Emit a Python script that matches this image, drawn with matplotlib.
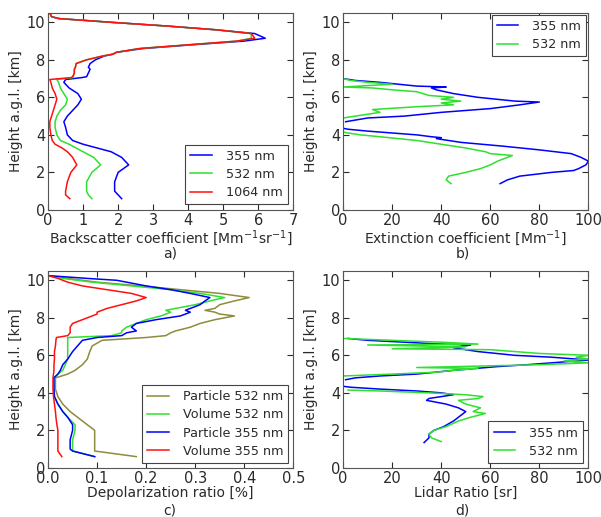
import numpy as np
import matplotlib.pyplot as plt

nan = np.nan

# a) backscatter coefficient [Mm-1 sr-1]
h_bsc = [0.6, 0.8, 1.0, 1.5, 2.0, 2.4, 2.8, 3.1, 3.3, 3.5, 3.7, 4.0, 4.4, 4.7, 5.0, 5.3, 5.6, 5.9,
         6.2, 6.5, 6.8, 6.95, 7.05, 7.1, 7.3, 7.5, 7.6, 7.8, 8.0, 8.2, 8.3, 8.4, 8.6, 8.8, 9.0,
         9.15, 9.4, 9.6, 9.8, 10.0, 10.2, 10.3, 10.5]
bsc_355 = [2.1, 2.0, 1.9, 1.9, 2.0, 2.3, 2.1, 1.8, 1.4, 1.0, 0.7, 0.55, 0.5, 0.45, 0.55, 0.7, 0.85, 0.95,
           0.85, 0.6, 0.45, 0.5, 0.95, 1.1, 1.15, 1.2, 1.15, 1.2, 1.35, 1.6, 1.85, 1.95, 2.7, 4.1, 5.6,
           6.2, 5.9, 4.8, 3.4, 1.8, 0.3, 0.1, 0.05]
bsc_532 = [1.25, 1.15, 1.1, 1.1, 1.25, 1.5, 1.3, 1.0, 0.8, 0.6, 0.35, 0.25, 0.2, 0.2, 0.25, 0.35, 0.5, 0.55,
           0.45, 0.35, 0.3, 0.25, 0.7, 0.72, 0.75, 0.75, 0.78, 0.8, 1.1, 1.55, 1.85, 1.95, 2.6, 4.0, 5.4,
           5.8, 5.8, 4.8, 3.4, 1.8, 0.3, 0.1, 0.05]
bsc_1064 = [0.62, 0.5, 0.5, 0.55, 0.65, 0.82, 0.7, 0.55, 0.4, 0.2, 0.12, 0.08, 0.05, 0.05, 0.1, 0.15, 0.2, 0.25,
            0.2, 0.12, 0.08, 0.05, 0.65, 0.7, 0.75, 0.75, 0.78, 0.8, 1.1, 1.55, 1.85, 1.95, 2.6, 4.0, 5.4,
            5.9, 5.8, 4.8, 3.4, 1.8, 0.3, 0.1, 0.05]

# b) extinction coefficient [Mm-1]
h_ext_355 = [1.4, 1.6, 1.8, 2.0, 2.1, 2.2, 2.4, 2.6, 2.8, 3.0, 3.2, 3.4, 3.6, 3.8, 3.85, 3.9, 4.0, 4.1, 4.2, 4.3, 4.35,
             4.5,
             4.7, 4.9, 5.0, 5.2, 5.4, 5.6, 5.75, 5.8, 6.0, 6.2, 6.4, 6.5, 6.55, 6.6, 6.8, 6.9, 7.0]
ext_355 = [64, 67, 72, 85, 94, 96, 99, 100, 97, 93, 80, 65, 48, 38, 40, 36, 30, 20, 10, 2, 0,
           nan,
           1, 10, 25, 40, 60, 72, 80, 70, 55, 45, 38, 36, 42, 30, 15, 5, 0]
h_ext_532 = [1.4, 1.5, 1.6, 1.8, 2.0, 2.2, 2.4, 2.6, 2.8, 2.9, 3.0, 3.1, 3.3, 3.5, 3.7, 3.9, 4.0, 4.1, 4.15,
             4.5,
             4.9, 5.0, 5.2, 5.35, 5.5, 5.6, 5.7, 5.8, 5.9, 6.0, 6.1, 6.3, 6.4, 6.5, 6.55, 6.7, 6.8, 6.9, 7.0]
ext_532 = [44, 43, 42, 43, 50, 56, 60, 63, 67, 69, 60, 58, 50, 40, 30, 15, 7, 2, 0,
           nan,
           0, 5, 15, 12, 30, 45, 40, 48, 40, 45, 35, 30, 20, 12, 0, 20, 10, 3, 0]

# c) depolarization ratio
h_dep = [0.6, 0.9, 1.0, 1.5, 2.0, 2.3, 2.7, 3.0, 3.4, 3.8, 4.2, 4.8, 5.0, 5.2, 5.5, 5.8, 6.2, 6.5,
         6.8, 6.95, 7.05, 7.2, 7.3, 7.5, 7.7, 7.9, 8.1, 8.2, 8.3, 8.4, 8.5, 8.7, 8.9, 9.08, 9.3,
         9.5, 9.7, 9.9, 10.0, 10.1, 10.25]
dep_p532 = [0.18, 0.095, 0.095, 0.095, 0.095, 0.08, 0.06, 0.045, 0.03, 0.02, 0.015, 0.015, 0.04, 0.055, 0.07, 0.08, 0.085, 0.09,
            0.11, 0.2, 0.24, 0.25, 0.26, 0.29, 0.31, 0.34, 0.38, 0.35, 0.34, 0.32, 0.34, 0.35, 0.38, 0.41, 0.35,
            0.27, 0.19, 0.1, 0.07, 0.04, 0.0]
dep_v532 = [0.095, 0.05, 0.05, 0.05, 0.055, 0.055, 0.04, 0.03, 0.02, 0.013, 0.012, 0.012, 0.02, 0.03, 0.035, 0.04, 0.04, 0.04,
            0.04, 0.04, 0.13, 0.15, 0.15, 0.16, 0.18, 0.2, 0.23, 0.24, 0.25, 0.24, 0.26, 0.3, 0.33, 0.36, 0.31,
            0.25, 0.17, 0.09, 0.06, 0.03, 0.0]
dep_p355 = [0.095, 0.05, 0.045, 0.045, 0.05, 0.05, 0.04, 0.03, 0.02, 0.013, 0.012, 0.012, 0.02, 0.025, 0.03, 0.04, 0.05, 0.06,
            0.07, 0.1, 0.15, 0.16, 0.18, 0.17, 0.18, 0.22, 0.27, 0.28, 0.29, 0.28, 0.29, 0.31, 0.32, 0.33, 0.29,
            0.25, 0.2, 0.16, 0.14, 0.08, 0.0]
dep_v355 = [0.028, 0.02, 0.02, 0.02, 0.02, 0.018, 0.016, 0.015, 0.013, 0.011, 0.01, 0.01, 0.011, 0.012, 0.012, 0.013, 0.013, 0.015,
            0.016, 0.017, 0.04, 0.045, 0.045, 0.045, 0.05, 0.07, 0.09, 0.1, 0.1, 0.11, 0.12, 0.15, 0.18, 0.2, 0.17,
            0.12, 0.07, 0.04, 0.03, 0.02, 0.0]

# d) lidar ratio [sr]
h_lr_355 = [1.35, 1.6, 1.8, 2.0, 2.2, 2.5, 2.8, 3.0, 3.2, 3.4, 3.6, 3.7, 3.9, 4.0, 4.1, 4.2, 4.3, 4.35,
            4.5,
            4.7, 4.8, 4.9, 5.0, 5.2, 5.4, 5.5, 5.7, 5.75, 5.9, 6.0, 6.2, 6.4, 6.55, 6.6, 6.7, 6.8, 6.9]
lr_355 = [33, 35, 35, 37, 41, 45, 48, 50, 47, 42, 34, 35, 45, 40, 30, 15, 3, 0,
          nan,
          1, 5, 15, 30, 45, 63, 75, 95, 100, 85, 70, 55, 45, 52, 40, 25, 10, 2]
h_lr_532 = [1.4, 1.6, 1.8, 2.0, 2.2, 2.5, 2.7, 2.9, 3.0, 3.2, 3.4, 3.6, 3.7, 3.8, 3.9, 4.0, 4.1, 4.15,
            4.5,
            4.9, 5.0, 5.1, 5.2, 5.3, 5.35, 5.5, 5.6, 5.7, 5.8, 5.9, 6.0, 6.1, 6.3, 6.35, 6.45, 6.55, 6.6, 6.7, 6.8, 6.9]
lr_532 = [40, 36, 35, 37, 42, 47, 52, 58, 53, 56, 50, 47, 55, 57, 50, 35, 15, 2,
          nan,
          0, 20, 38, 45, 55, 30, 80, 100, 90, 100, 95, 100, 80, 60, 20, 50, 10, 55, 40, 20, 0]

blue = '#0000ff'
green = '#2fe02f'
red = '#ff1010'
olive = '#8c8c3c'
txt = '#2a2a2a'

plt.rcParams['font.family'] = 'DejaVu Sans'
plt.rcParams['font.size'] = 10
plt.rcParams['text.color'] = txt
plt.rcParams['axes.labelcolor'] = txt
plt.rcParams['xtick.color'] = txt
plt.rcParams['ytick.color'] = txt
plt.rcParams['xtick.labelsize'] = 10.5
plt.rcParams['ytick.labelsize'] = 10.5
plt.rcParams['xtick.direction'] = 'in'
plt.rcParams['ytick.direction'] = 'in'
plt.rcParams['xtick.top'] = True
plt.rcParams['ytick.right'] = True
plt.rcParams['axes.edgecolor'] = '#555555'
plt.rcParams['legend.fontsize'] = 9.2
plt.rcParams['legend.handlelength'] = 1.7
plt.rcParams['legend.handletextpad'] = 1.1
plt.rcParams['legend.labelspacing'] = 0.4
plt.rcParams['legend.borderpad'] = 0.4

fig = plt.figure(figsize=(6.01, 5.17), dpi=100)
w, hgt = 0.408, 0.381
ax_a = fig.add_axes([0.080, 0.594, w, hgt])
ax_b = fig.add_axes([0.571, 0.594, w, hgt])
ax_c = fig.add_axes([0.080, 0.095, w, hgt])
ax_d = fig.add_axes([0.571, 0.095, w, hgt])

lw = 1.1
ax_a.plot(bsc_355, h_bsc, color=blue, lw=lw, label='355 nm')
ax_a.plot(bsc_532, h_bsc, color=green, lw=lw, label='532 nm')
ax_a.plot(bsc_1064, h_bsc, color=red, lw=lw, label='1064 nm')
ax_a.set_xlim(0, 7)
ax_a.set_xticks(range(0, 8))
ax_a.set_xlabel('Backscatter coefficient [Mm$^{-1}$sr$^{-1}$]', labelpad=0.5)
ax_a.legend(loc='lower right', borderaxespad=0.45)

ax_b.plot(ext_355, h_ext_355, color=blue, lw=lw, label='355 nm')
ax_b.plot(ext_532, h_ext_532, color=green, lw=lw, label='532 nm')
ax_b.set_xlim(0, 100)
ax_b.set_xlabel('Extinction coefficient [Mm$^{-1}$]', labelpad=0.5)
ax_b.legend(loc='upper right', borderaxespad=0.15)

ax_c.plot(dep_p532, h_dep, color=olive, lw=lw, label='Particle 532 nm')
ax_c.plot(dep_v532, h_dep, color=green, lw=lw, label='Volume 532 nm')
ax_c.plot(dep_p355, h_dep, color=blue, lw=lw, label='Particle 355 nm')
ax_c.plot(dep_v355, h_dep, color=red, lw=lw, label='Volume 355 nm')
ax_c.set_xlim(0, 0.5)
ax_c.set_xticks([0.0, 0.1, 0.2, 0.3, 0.4, 0.5])
ax_c.set_xticklabels(['0.0', '0.1', '0.2', '0.3', '0.4', '0.5'])
ax_c.set_xlabel('Depolarization ratio [%]', labelpad=0.5)
ax_c.legend(loc='lower right', borderaxespad=0.4)

ax_d.plot(lr_355, h_lr_355, color=blue, lw=lw, label='355 nm')
ax_d.plot(lr_532, h_lr_532, color=green, lw=lw, label='532 nm')
ax_d.set_xlim(0, 100)
ax_d.set_xlabel('Lidar Ratio [sr]', labelpad=0.5)
ax_d.legend(loc='lower right', borderaxespad=0.4)

for ax in [ax_a, ax_b, ax_c, ax_d]:
    ax.set_ylim(0, 10.5)
    ax.set_yticks([0, 2, 4, 6, 8, 10])
    ax.set_ylabel('Height a.g.l. [km]', labelpad=3)
    ax.tick_params(length=4, pad=2)
    frame = ax.get_legend().get_frame()
    frame.set_boxstyle('square', pad=0)
    frame.set_edgecolor('#444444')
    frame.set_linewidth(0.8)
    frame.set_alpha(1)

# panel letters under the axis labels
fig.text(0.283, 0.509, 'a)', ha='center', va='center', fontsize=10)
fig.text(0.770, 0.509, 'b)', ha='center', va='center', fontsize=10)
fig.text(0.283, 0.012, 'c)', ha='center', va='center', fontsize=10)
fig.text(0.770, 0.012, 'd)', ha='center', va='center', fontsize=10)

fig.savefig('out.png', dpi=100, facecolor='white')
